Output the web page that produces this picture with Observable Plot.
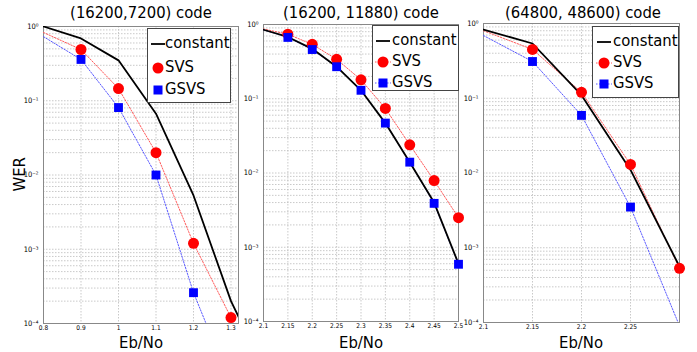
<!DOCTYPE html>
<html><head><meta charset="utf-8">
<script src="https://cdn.jsdelivr.net/npm/d3@7"></script>
<script src="https://cdn.jsdelivr.net/npm/@observablehq/plot@0.6"></script>
<style>
body{margin:0;background:#fff;font-family:"DejaVu Sans Condensed","DejaVu Sans",sans-serif;font-stretch:condensed;}
#wrap{position:relative;width:697px;height:352px;overflow:hidden;}
.abs{position:absolute;}
.title{font-size:16.5px;line-height:1;white-space:nowrap;transform:translateX(-50%);}
.lab{font-size:16.5px;line-height:1;white-space:nowrap;}
.leg{position:absolute;background:#fff;border:1px solid #444;box-sizing:border-box;}
.leg div{position:absolute;font-size:16.5px;line-height:16px;white-space:nowrap;}
</style></head>
<body><div id="wrap"></div>
<script>
// ---- data ----
const titles = ["(16200,7200) code", "(16200, 11880) code", "(64800, 48600) code"];
const seriesNames = ["constant", "SVS", "GSVS"];

const p1Ebno = [0.8, 0.9, 1.0, 1.1, 1.2, 1.3];
const p1ConstEbno = [0.8, 0.9, 1.0, 1.1, 1.2, 1.3, 1.4];
const p1Const = [1.0, 0.69, 0.35, 0.067, 0.0053, 0.0002, 0.000018];
const p1SVS = [0.83, 0.49, 0.146, 0.020, 0.0012, 0.00012];
const p1GSVS = [0.73, 0.36, 0.081, 0.010, 0.00026, 0.000015];
const p1Ticks = [0.8, 0.9, 1, 1.1, 1.2, 1.3];

const p2Ebno = [2.1, 2.15, 2.2, 2.25, 2.3, 2.35, 2.4, 2.45, 2.5];
const p2Const = [0.85, 0.68, 0.47, 0.27, 0.13, 0.047, 0.014, 0.0040, 0.0006];
const p2SVS = [0.87, 0.74, 0.54, 0.34, 0.18, 0.074, 0.024, 0.0079, 0.0025];
const p2GSVS = [0.85, 0.67, 0.46, 0.27, 0.13, 0.047, 0.014, 0.0039, 0.00059];
const p2Ticks = [2.1, 2.15, 2.2, 2.25, 2.3, 2.35, 2.4, 2.45, 2.5];

const p3Ebno = [2.1, 2.15, 2.2, 2.25, 2.3];
const p3Const = [0.83, 0.54, 0.11, 0.011, 0.00056];
const p3SVS = [0.80, 0.45, 0.12, 0.013, 0.00053];
const p3GSVS = [0.69, 0.31, 0.059, 0.0035, 0.00009];
const p3Ticks = [2.1, 2.15, 2.2, 2.25];

const yTicks = [1e-4, 1e-3, 1e-2, 1e-1, 1];

// ---- helpers ----
const sup = {"0":"⁰","1":"¹","2":"²","3":"³","4":"⁴","-":"⁻"};
const fmtPow = d => "10" + String(Math.round(Math.log10(d))).split("").map(c => sup[c]).join("");
const fmtX = d => String(+d.toFixed(2));
const minorY = [];
for (let e = -4; e < 0; e++) for (let m = 1; m <= 9; m++) minorY.push(m * Math.pow(10, e));
minorY.push(1);
const pts = (xs, ys) => xs.map((x, i) => ({x, y: ys[i]}));

const panels = [
  {left: 0, width: 240, ml: 43, mr: 2, mt: 26, mb: 29, dom: [0.8, 1.32], ticks: p1Ticks,
   c: pts(p1ConstEbno, p1Const), s: pts(p1Ebno, p1SVS), g: pts(p1Ebno, p1GSVS)},
  {left: 240, width: 220, ml: 23, mr: 2, mt: 24, mb: 31, dom: [2.1, 2.5], ticks: p2Ticks,
   c: pts(p2Ebno, p2Const), s: pts(p2Ebno, p2SVS), g: pts(p2Ebno, p2GSVS)},
  {left: 460, width: 237, ml: 23, mr: 18, mt: 23, mb: 30, dom: [2.1, 2.3], ticks: p3Ticks,
   c: pts(p3Ebno, p3Const), s: pts(p3Ebno, p3SVS), g: pts(p3Ebno, p3GSVS)}
];

const wrap = document.getElementById("wrap");

panels.forEach((p, i) => {
  const mk = arr => arr.filter(d => d.x > p.dom[0] + 1e-9 && d.x <= p.dom[1] + 1e-9 && d.y >= 1e-4);
  const chart = Plot.plot({
    width: p.width, height: 352,
    marginLeft: p.ml, marginRight: p.mr, marginTop: p.mt, marginBottom: p.mb,
    style: {fontFamily: "DejaVu Sans, sans-serif", background: "transparent", overflow: "visible"},
    x: {domain: p.dom, ticks: p.ticks, tickFormat: fmtX, label: null, tickSize: 0, tickPadding: 2},
    y: {type: "log", domain: [1e-4, 1], ticks: yTicks, tickFormat: fmtPow, label: null, tickSize: 0, tickPadding: 5},
    marks: [
      Plot.ruleY(minorY, {stroke: "#bbb", strokeWidth: 0.8, strokeDasharray: "1.5,1.5"}),
      Plot.ruleX(p.ticks, {stroke: "#bbb", strokeWidth: 0.8, strokeDasharray: "1.5,1.5"}),
      Plot.frame({stroke: "#888"}),
      Plot.axisX({ticks: p.ticks, tickFormat: fmtX, tickSize: 0, tickPadding: 2, fontSize: 6.5, label: null}),
      Plot.axisY({ticks: yTicks, tickFormat: fmtPow, tickSize: 0, tickPadding: 5, fontSize: 7.5, label: null}),
      Plot.line(p.s, {x: "x", y: "y", stroke: "#ff5a5a", strokeWidth: 1, strokeDasharray: "1.5,1.5", clip: true}),
      Plot.line(p.g, {x: "x", y: "y", stroke: "#5a5aff", strokeWidth: 1, strokeDasharray: "1.5,1.5", clip: true}),
      Plot.line(p.c, {x: "x", y: "y", stroke: "#000", strokeWidth: 1.8, clip: true}),
      Plot.dot(mk(p.s), {x: "x", y: "y", r: 5.5, fill: "#ff0000", stroke: "none"}),
      Plot.dot(mk(p.g), {x: "x", y: "y", r: 5, symbol: "square", fill: "#0000ff", stroke: "none"})
    ]
  });
  chart.style.position = "absolute";
  chart.style.left = p.left + "px";
  chart.style.top = "0px";
  wrap.appendChild(chart);
});

// titles and axis labels
const addDiv = (cls, text, css) => {
  const d = document.createElement("div");
  d.className = "abs " + cls; d.textContent = text;
  Object.assign(d.style, css); wrap.appendChild(d); return d;
};
addDiv("title", titles[0], {left: "141px", top: "5px"});
addDiv("title", titles[1], {left: "361px", top: "5px"});
addDiv("title", titles[2], {left: "583px", top: "5px"});
[141, 361, 581].forEach(x => addDiv("title", "Eb/No", {left: x + "px", top: "334.5px"}));
addDiv("lab", "WER", {left: "3px", top: "166px", transform: "rotate(-90deg)", transformOrigin: "center"});

// legends
const legends = [
  {left: 147, top: 28, w: 84, h: 75, symX: 10, txtX: 17, rows: [15, 39, 61], lines: false},
  {left: 372, top: 25, w: 87, h: 66, symX: 10, txtX: 19, rows: [15, 36, 57], lines: true},
  {left: 592, top: 26, w: 87, h: 72, symX: 11, txtX: 20, rows: [15, 36, 57], lines: true}
];
legends.forEach(L => {
  const box = document.createElement("div");
  box.className = "leg";
  Object.assign(box.style, {left: L.left + "px", top: L.top + "px", width: L.w + "px", height: L.h + "px"});
  const dl = (y, c) => L.lines ? `<line x1="${L.symX-8}" x2="${L.symX+8}" y1="${y}" y2="${y}" stroke="${c}" stroke-width="1" stroke-dasharray="1.5,1.5"/>` : "";
  const svg = `<svg width="${L.w}" height="${L.h}" style="position:absolute;left:0;top:0">
    <line x1="${L.symX-7}" x2="${L.symX+7}" y1="${L.rows[0]}" y2="${L.rows[0]}" stroke="#000" stroke-width="1.8"/>
    ${dl(L.rows[1], "#ff5a5a")}
    <circle cx="${L.symX}" cy="${L.rows[1]}" r="5.5" fill="#f00"/>
    ${dl(L.rows[2], "#5a5aff")}
    <rect x="${L.symX-4.5}" y="${L.rows[2]-4.5}" width="9" height="9" fill="#00f"/>
  </svg>`;
  box.innerHTML = svg;
  seriesNames.forEach((n, k) => {
    const t = document.createElement("div");
    t.textContent = n;
    Object.assign(t.style, {left: L.txtX + "px", top: (L.rows[k] - 9) + "px"});
    box.appendChild(t);
  });
  wrap.appendChild(box);
});
</script></body></html>
